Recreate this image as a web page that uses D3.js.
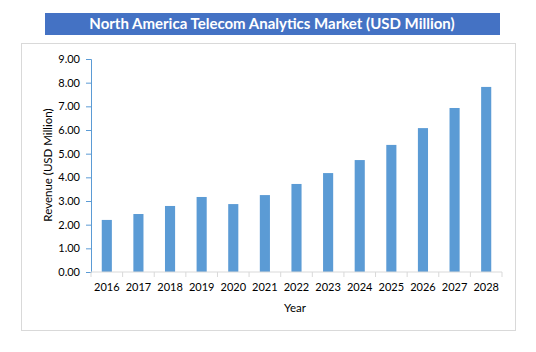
<!DOCTYPE html>
<html>
<head>
<meta charset="utf-8">
<script src="https://cdn.jsdelivr.net/npm/d3@7"></script>
<style>
  body { margin: 0; background: #fff; }
  #chart { width: 536px; height: 352px; }
  text { font-family: Lato, "Open Sans", sans-serif; }
</style>
</head>
<body>
<div id="chart"></div>
<script>
const years = ["2016", "2017", "2018", "2019", "2020", "2021", "2022", "2023", "2024", "2025", "2026", "2027", "2028"];
const revenue = [2.20, 2.45, 2.79, 3.17, 2.87, 3.25, 3.72, 4.18, 4.73, 5.37, 6.08, 6.93, 7.82];
const yTicks = [0, 1, 2, 3, 4, 5, 6, 7, 8, 9];

const chartTitle = "North America Telecom Analytics Market (USD Million)";
const yTitle = "Revenue (USD Million)";
const xTitle = "Year";

const width = 536;
const height = 352;
const margin = { left: 91, right: 34, top: 59, bottom: 80 };

const svg = d3.select("#chart").append("svg")
  .attr("width", width)
  .attr("height", height);

// title bar
svg.append("rect")
  .attr("x", 45).attr("y", 13)
  .attr("width", 455).attr("height", 22)
  .attr("fill", "#4472c4");

svg.append("text")
  .attr("x", 272).attr("y", 29)
  .attr("text-anchor", "middle")
  .attr("font-size", 15)
  .attr("font-weight", "bold")
  .attr("fill", "#fff")
  .text(chartTitle);

// chart frame
svg.append("rect")
  .attr("x", 21.5).attr("y", 43.5)
  .attr("width", 494).attr("height", 287)
  .attr("fill", "none")
  .attr("stroke", "#d9d9d9");

const x = d3.scaleBand()
  .domain(years)
  .range([margin.left, width - margin.right])
  .paddingInner(0.68)
  .paddingOuter(0.34);

const y = d3.scaleLinear()
  .domain([0, 9])
  .range([height - margin.bottom, margin.top]);

// bars
svg.append("g")
  .selectAll("rect")
  .data(years)
  .enter()
  .append("rect")
  .attr("x", d => x(d))
  .attr("y", (d, i) => y(revenue[i]))
  .attr("width", x.bandwidth())
  .attr("height", (d, i) => y(0) - y(revenue[i]))
  .attr("fill", "#5b9bd5");

// y axis
const yAxis = svg.append("g")
  .attr("transform", `translate(${margin.left},0)`)
  .call(d3.axisLeft(y).tickValues(yTicks).tickFormat(d3.format(".2f")).tickSize(5).tickPadding(6));
yAxis.select(".domain").attr("stroke", "#5b9bd5");
yAxis.selectAll(".tick line").attr("stroke", "#5b9bd5");
yAxis.selectAll("text").attr("font-size", 11).attr("fill", "#000");

// x axis with ticks at category boundaries
const x0 = margin.left, x1 = width - margin.right;
const xAxis = svg.append("g")
  .attr("transform", `translate(0,${y(0)})`);
xAxis.append("line")
  .attr("x1", x0).attr("x2", x1)
  .attr("stroke", "#d9d9d9");
xAxis.selectAll(".xtick")
  .data(d3.range(years.length + 1))
  .enter()
  .append("line")
  .attr("x1", i => x0 + i * x.step())
  .attr("x2", i => x0 + i * x.step())
  .attr("y1", 0).attr("y2", 5)
  .attr("stroke", "#d9d9d9");
xAxis.selectAll(".xlabel")
  .data(years)
  .enter()
  .append("text")
  .attr("x", d => x(d) + x.bandwidth() / 2)
  .attr("y", 19)
  .attr("text-anchor", "middle")
  .attr("font-size", 11)
  .attr("fill", "#000")
  .text(d => d);

// axis titles
svg.append("text")
  .attr("x", 295).attr("y", 312)
  .attr("text-anchor", "middle")
  .attr("font-size", 11.5)
  .attr("fill", "#000")
  .text(xTitle);

svg.append("text")
  .attr("transform", "translate(52,165) rotate(-90)")
  .attr("text-anchor", "middle")
  .attr("font-size", 11.5)
  .attr("fill", "#000")
  .text(yTitle);
</script>
</body>
</html>
